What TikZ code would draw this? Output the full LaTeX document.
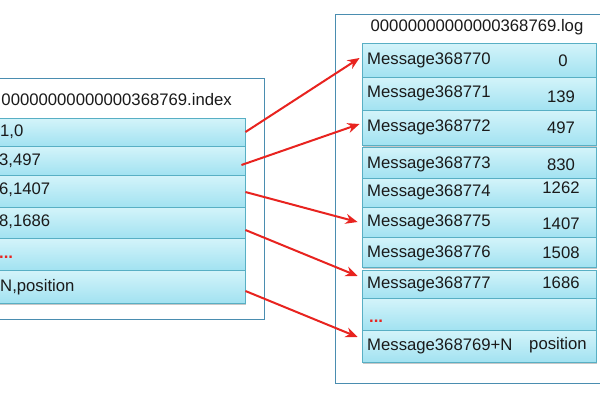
\documentclass[tikz,border=0pt]{standalone}
\usepackage{fontspec}
\setmainfont{Liberation Sans}
\usetikzlibrary{arrows.meta,shadows}
\definecolor{outerblue}{HTML}{4A8DB0}
\definecolor{rowborder}{HTML}{58AFC4}
\definecolor{rowtop}{HTML}{D4F4FA}
\definecolor{rowbot}{HTML}{A2E2F1}
\definecolor{arrred}{HTML}{E8231F}
\definecolor{txtcol}{HTML}{1A1A1A}
\tikzset{
  outerbox/.style={draw=outerblue, line width=1pt, fill=white},
  rowbox/.style={draw=rowborder, line width=0.9pt, top color=rowtop, bottom color=rowbot,
    drop shadow={shadow xshift=1pt, shadow yshift=-1.5pt, opacity=.22, fill=black},
    inner sep=0pt},
  txt/.style={inner sep=0pt, text=txtcol, font=\fontsize{16.7}{19}\selectfont},
  dots/.style={inner sep=0pt, text=arrred, font=\fontsize{16.7}{19}\selectfont\bfseries},
  link/.style={draw=arrred, line width=2pt, -{Stealth[length=12pt,width=10pt]}}
}
\begin{document}
\begin{tikzpicture}[x=1pt,y=-1pt]
\useasboundingbox (0,0) rectangle (600,400);
\clip (0,0) rectangle (600,400);
\fill[white] (0,0) rectangle (600,400);

% ---------- left (index) ----------
\node[outerbox, minimum width=294pt, minimum height=241pt, inner sep=0pt] (Lbox) at (117,198.5) {};
\node[txt, anchor=east] (Ltitle) at (232,100) {00000000000000368769.index};

\node[rowbox, minimum width=275pt, minimum height=28pt] (L1) at (107.5,132) {};
\node[rowbox, minimum width=275pt, minimum height=29pt] (L2) at (107.5,160.5) {};
\node[rowbox, minimum width=275pt, minimum height=32pt] (L3) at (107.5,191) {};
\node[rowbox, minimum width=275pt, minimum height=31pt] (L4) at (107.5,222.5) {};
\node[rowbox, minimum width=275pt, minimum height=32pt] (L5) at (107.5,254) {};
\node[rowbox, minimum width=275pt, minimum height=33pt] (L6) at (107.5,286.5) {};

\node[txt, anchor=west] (Lt1) at (0,132) {1,0};
\node[txt, anchor=west] (Lt2) at (-1,160.5) {3,497};
\node[txt, anchor=west] (Lt3) at (-1,190) {6,1407};
\node[txt, anchor=west] (Lt4) at (-1,222) {8,1686};
\node[dots, anchor=west] (Lt5) at (-1,257) {...};
\node[txt, anchor=west] (Lt6) at (0,287) {N,position};

% ---------- right (log) ----------
\node[outerbox, minimum width=290pt, minimum height=369pt, inner sep=0pt] (Rbox) at (480,198.5) {};
\node[txt] (Rtitle) at (477,27) {00000000000000368769.log};

\node[rowbox, minimum width=234pt, minimum height=34pt] (R1) at (479,60) {};
\node[rowbox, minimum width=234pt, minimum height=33pt] (R2) at (479,93.5) {};
\node[rowbox, minimum width=234pt, minimum height=35pt] (R3) at (479,127.5) {};
\node[rowbox, minimum width=234pt, minimum height=31pt] (R4) at (479,162.5) {};
\node[rowbox, minimum width=234pt, minimum height=29pt] (R5) at (479,192.5) {};
\node[rowbox, minimum width=234pt, minimum height=30pt] (R6) at (479,222) {};
\node[rowbox, minimum width=234pt, minimum height=30pt] (R7) at (479,252) {};
\node[rowbox, minimum width=234pt, minimum height=28pt] (R8) at (479,284) {};
\node[rowbox, minimum width=234pt, minimum height=32pt] (R9) at (479,314) {};
\node[rowbox, minimum width=234pt, minimum height=32pt] (R10) at (479,346) {};

\node[txt, anchor=west] (Rm1) at (367,60) {Message368770};
\node[txt, anchor=west] (Rm2) at (367,93) {Message368771};
\node[txt, anchor=west] (Rm3) at (367,127) {Message368772};
\node[txt, anchor=west] (Rm4) at (367,164) {Message368773};
\node[txt, anchor=west] (Rm5) at (367,192) {Message368774};
\node[txt, anchor=west] (Rm6) at (367,222) {Message368775};
\node[txt, anchor=west] (Rm7) at (367,253) {Message368776};
\node[txt, anchor=west] (Rm8) at (367,284) {Message368777};
\node[dots, anchor=west] (Rm9) at (369,321) {...};
\node[txt, anchor=west] (Rm10) at (367,346) {Message368769+N};

\node[txt] (Rn1) at (563,61) {0};
\node[txt] (Rn2) at (561,97) {139};
\node[txt] (Rn3) at (561,128) {497};
\node[txt] (Rn4) at (561,165) {830};
\node[txt] (Rn5) at (561,188) {1262};
\node[txt] (Rn6) at (561,224) {1407};
\node[txt] (Rn7) at (561,253) {1508};
\node[txt] (Rn8) at (561,283) {1686};
\node[txt] (Rn10) at (558,345) {position};

% ---------- arrows ----------
\draw[link] (L1.east) -- ([xshift=-2pt,yshift=2pt]R1.west);
\draw[link] ([xshift=-4pt,yshift=-4.5pt]L2.east) -- ([xshift=-2pt,yshift=3.5pt]R3.west);
\draw[link] ([yshift=-1pt]L3.east) -- ([xshift=-4pt]R6.west);
\draw[link] ([yshift=-7.5pt]L4.east) -- ([xshift=-4pt,yshift=8pt]R8.west);
\draw[link] ([yshift=-4.5pt]L6.east) -- ([xshift=-4pt,yshift=9pt]R10.west);
\end{tikzpicture}
\end{document}
